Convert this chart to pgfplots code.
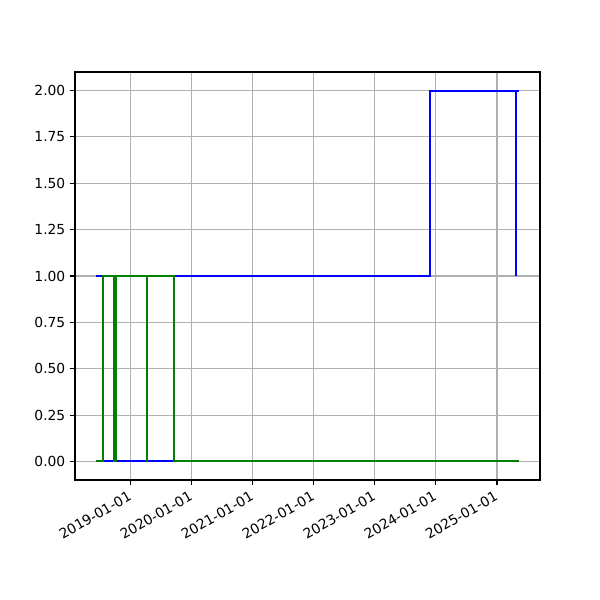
\documentclass[border=0pt]{standalone}
\usepackage{pgfplots}
\pgfplotsset{compat=1.18}
\usepackage{fontspec}
\setmainfont{DejaVu Sans}
\definecolor{mblue}{RGB}{0,0,255}
\definecolor{mgreen}{RGB}{0,128,0}
\definecolor{mgrid}{RGB}{176,176,176}
\begin{document}
\begin{tikzpicture}
\begin{axis}[
  at={(0,0)}, anchor=south west,
  scale only axis, width=4.65in, height=4.08in,
  xmin=-333, xmax=2449, ymin=-0.1, ymax=2.1,
  xtick={0,365,731,1096,1461,1826,2192},
  xticklabels={2019-01-01,2020-01-01,2021-01-01,2022-01-01,2023-01-01,2024-01-01,2025-01-01},
  x tick label style={xshift=-2pt, yshift=-2.5pt, rotate=30, anchor=north east, inner sep=1pt},
  ytick={0,0.25,0.5,0.75,1,1.25,1.5,1.75,2},
  yticklabel style={/pgf/number format/fixed, /pgf/number format/fixed zerofill, /pgf/number format/precision=2},
  /pgf/number format/assume math mode=true,
  tick label style={font=\fontsize{10}{12}\selectfont},
  tick align=outside, tickwidth=3.5pt,
  xtick pos=bottom, ytick pos=left,
  major tick style={black, line width=0.8pt},
  grid=major, grid style={mgrid, line width=0.8pt},
  axis line style={black, line width=0.8pt},
]
\addplot[mblue, line width=1.5pt, line join=miter] coordinates {
 (-207.5,1) (-165.6,1) (-165.6,0) (-99.8,0) (-99.8,1) (-99.8,0) (258.9,0) (258.9,1) (1789.5,1) (1789.5,2) (2303.7,2) (2303.7,1)
};
\addplot[mblue, line width=1.5pt] coordinates {(2303.7,2) (2321.6,2)};
\addplot[mgreen, line width=1.5pt, line join=miter] coordinates {
 (-207.5,0) (-165.6,0) (-165.6,1) (-99.8,1) (-99.8,0) (-87.9,0) (-87.9,1) (95,1) (95,0) (100,0) (100,1) (258.9,1) (258.9,0) (2321.6,0)
};
\end{axis}
\pgfresetboundingbox
\useasboundingbox (-0.75in,-1.2in) rectangle (5.25in,4.8in);
\end{tikzpicture}
\end{document}
